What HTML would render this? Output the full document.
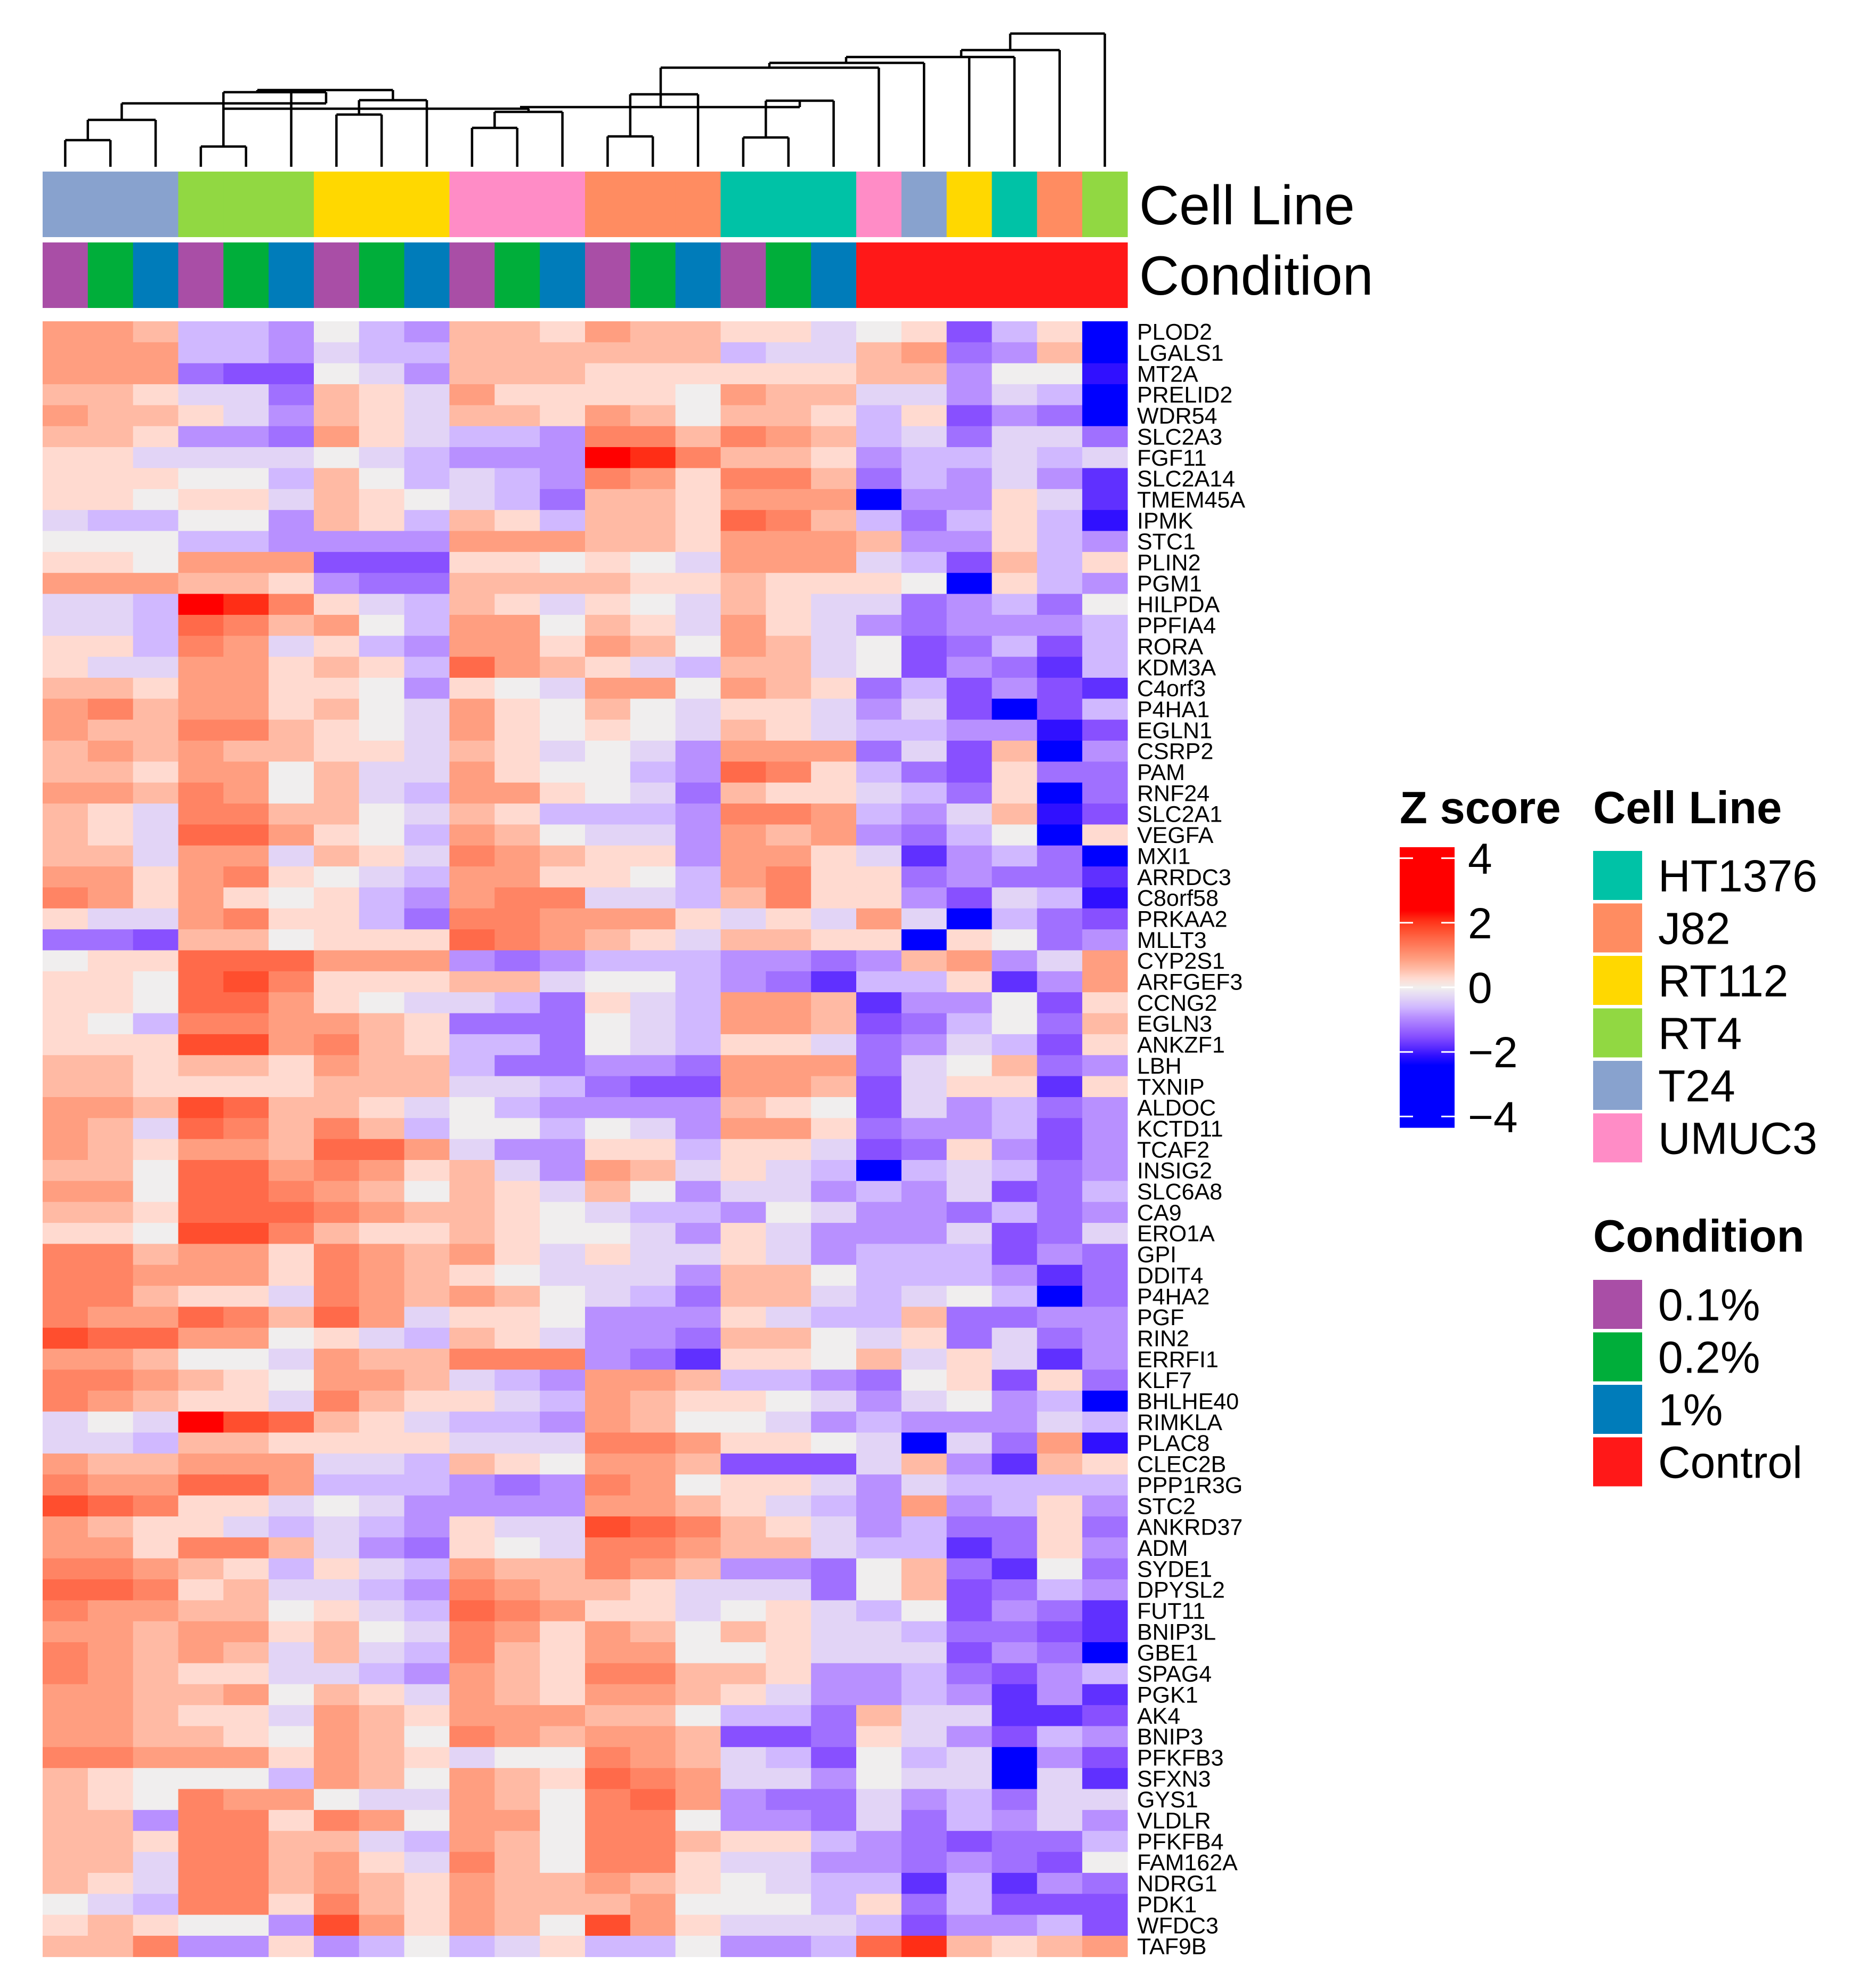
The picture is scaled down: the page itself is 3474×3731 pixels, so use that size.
<!DOCTYPE html>
<html><head><meta charset="utf-8">
<style>
html,body{margin:0;padding:0;background:#fff;}
svg{display:block;font-family:"Liberation Sans",Arial,sans-serif;}
</style></head>
<body>
<svg id="chart" xmlns="http://www.w3.org/2000/svg" width="3474" height="3731" viewBox="0 0 3474 3731">
<rect x="0" y="0" width="3474" height="3731" fill="#ffffff"/>
<g id="dendro" stroke="#000" stroke-width="4.5" fill="none"></g>
<g id="annot"></g>
<g id="cells"></g>
<g id="rowlabels" font-size="43" fill="#000"></g>
<text x="2138" y="421" font-size="104" fill="#000">Cell Line</text>
<text x="2138" y="553" font-size="104" fill="#000">Condition</text>
<g id="legend"></g>
</svg>
<script>
// ---- data ----
const genes = ["PLOD2","LGALS1","MT2A","PRELID2","WDR54","SLC2A3","FGF11","SLC2A14","TMEM45A","IPMK","STC1","PLIN2","PGM1","HILPDA","PPFIA4","RORA","KDM3A","C4orf3","P4HA1","EGLN1","CSRP2","PAM","RNF24","SLC2A1","VEGFA","MXI1","ARRDC3","C8orf58","PRKAA2","MLLT3","CYP2S1","ARFGEF3","CCNG2","EGLN3","ANKZF1","LBH","TXNIP","ALDOC","KCTD11","TCAF2","INSIG2","SLC6A8","CA9","ERO1A","GPI","DDIT4","P4HA2","PGF","RIN2","ERRFI1","KLF7","BHLHE40","RIMKLA","PLAC8","CLEC2B","PPP1R3G","STC2","ANKRD37","ADM","SYDE1","DPYSL2","FUT11","BNIP3L","GBE1","SPAG4","PGK1","AK4","BNIP3","PFKFB3","SFXN3","GYS1","VLDLR","PFKFB4","FAM162A","NDRG1","PDK1","WFDC3","TAF9B"];
const sampleCellLines = ["T24","T24","T24","RT4","RT4","RT4","RT112","RT112","RT112","UMUC3","UMUC3","UMUC3","J82","J82","J82","HT1376","HT1376","HT1376","UMUC3","T24","RT112","HT1376","J82","RT4"];
const sampleConditions = ["0.1%","0.2%","1%","0.1%","0.2%","1%","0.1%","0.2%","1%","0.1%","0.2%","1%","0.1%","0.2%","1%","0.1%","0.2%","1%","Control","Control","Control","Control","Control","Control"];
const zStep = 0.3; // z score = level * zStep
const zLevels = [
[3,3,2,-2,-2,-3,0,-2,-3,2,2,1,3,2,2,1,1,-1,0,1,-5,-2,1,-8],
[3,3,3,-2,-2,-3,-1,-2,-2,2,2,2,2,2,2,-2,-1,-1,2,3,-4,-3,2,-8],
[3,3,3,-4,-5,-5,0,-1,-3,2,2,2,1,1,1,1,1,1,2,2,-3,0,0,-7],
[2,2,1,-1,-1,-4,2,1,-1,3,1,1,1,1,0,3,2,2,-1,-1,-3,-1,-2,-8],
[3,2,2,1,-1,-3,2,1,-1,2,2,1,3,2,0,2,2,1,-2,1,-5,-3,-4,-8],
[2,2,1,-3,-3,-4,3,1,-1,-2,-2,-3,4,4,2,4,3,2,-2,-1,-4,-1,-1,-4],
[1,1,-1,-1,-1,-1,0,-1,-2,-3,-3,-3,8,7,4,2,2,1,-3,-2,-2,-1,-2,-1],
[1,1,1,0,0,-2,2,0,-2,-1,-2,-3,4,3,1,4,4,2,-4,-2,-3,-1,-3,-6],
[1,1,0,1,1,-1,2,1,0,-1,-2,-4,2,2,1,3,3,3,-8,-3,-3,1,-1,-6],
[-1,-2,-2,0,0,-3,2,1,-2,2,1,-2,2,2,1,5,4,2,-2,-4,-2,1,-2,-7],
[0,0,0,-2,-2,-3,-3,-3,-3,3,3,3,2,2,1,3,3,3,2,-3,-3,1,-2,-3],
[1,1,0,3,3,3,-5,-5,-5,1,1,0,1,0,-1,3,3,3,-1,-2,-5,2,-2,1],
[3,3,3,2,2,1,-3,-4,-4,2,2,2,2,1,1,2,1,1,1,0,-8,1,-2,-3],
[-1,-1,-2,8,7,4,1,-1,-2,2,1,-1,1,0,-1,2,1,-1,-1,-4,-3,-2,-4,0],
[-1,-1,-2,5,4,2,3,0,-2,3,3,0,2,1,-1,3,1,-1,-3,-4,-3,-3,-3,-2],
[1,1,-2,4,3,-1,1,-2,-3,3,3,1,3,2,0,3,2,-1,0,-5,-4,-2,-5,-2],
[1,-1,-1,3,3,1,2,1,-2,5,3,2,1,-1,-2,2,2,-1,0,-5,-3,-4,-6,-2],
[2,2,1,3,3,1,1,0,-3,1,0,-1,3,3,0,3,2,1,-4,-2,-5,-3,-5,-6],
[3,4,2,3,3,1,2,0,-1,3,1,0,2,0,-1,1,1,-1,-3,-1,-5,-8,-5,-2],
[3,2,2,4,4,2,1,0,-1,3,1,0,1,0,-1,2,1,-1,-2,-2,-3,-3,-7,-5],
[2,3,2,3,2,2,1,1,-1,2,1,-1,0,-1,-3,3,3,3,-4,-1,-5,2,-8,-3],
[2,2,1,3,3,0,2,-1,-1,3,1,0,0,-2,-3,5,4,1,-2,-4,-5,1,-4,-4],
[3,3,2,4,3,0,2,-1,-2,3,3,1,0,-1,-4,2,1,1,-1,-2,-4,1,-8,-4],
[2,1,-1,4,4,2,2,0,-1,2,1,-2,-2,-2,-3,4,4,3,-2,-3,-1,2,-7,-5],
[2,1,-1,5,5,3,1,0,-2,3,2,0,-1,-1,-3,3,2,3,-3,-4,-2,0,-8,1],
[2,2,-1,3,3,-1,2,1,-1,4,3,2,1,1,-3,3,3,1,-1,-6,-3,-2,-4,-8],
[3,3,1,3,4,1,0,-1,-2,3,3,1,1,0,-2,3,4,1,1,-4,-3,-4,-4,-6],
[4,3,1,3,1,0,1,-2,-3,3,4,4,-1,-1,-2,2,4,1,1,-3,-5,-1,-2,-7],
[1,-1,-1,3,4,1,1,-2,-4,4,4,3,3,3,1,-1,1,-1,3,-1,-8,-2,-4,-5],
[-4,-4,-5,2,2,0,1,1,1,5,4,3,2,1,-1,2,2,1,1,-8,1,0,-4,-3],
[0,1,1,5,5,5,3,3,3,-3,-4,-3,-2,-2,-2,-3,-3,-4,-3,2,3,-3,-1,3],
[1,1,0,5,6,4,1,1,1,2,2,-1,0,0,-2,-3,-4,-6,-2,-2,1,-6,-3,3],
[1,1,0,5,5,3,1,0,-1,-1,-2,-4,1,-1,-2,3,3,2,-6,-3,-3,0,-5,1],
[1,0,-2,4,4,3,3,2,1,-4,-4,-4,0,-1,-2,3,3,2,-5,-4,-2,0,-4,2],
[1,1,1,6,6,3,4,2,1,-2,-2,-4,0,-1,-2,1,1,-1,-4,-3,-1,-2,-5,1],
[2,2,1,2,2,1,3,2,2,-2,-4,-4,-3,-3,-4,3,3,3,-4,-1,0,2,-4,-3],
[2,2,1,1,1,1,2,2,2,-1,-1,-2,-4,-5,-5,3,3,2,-5,-1,1,1,-6,1],
[3,3,2,6,5,2,2,1,-1,0,-2,-3,-3,-3,-3,2,1,0,-5,-1,-3,-2,-4,-3],
[3,2,-1,5,4,2,4,2,-2,0,0,-2,0,-1,-3,3,3,1,-4,-3,-3,-2,-5,-3],
[3,2,1,3,3,2,5,5,3,-1,-3,-3,1,1,-2,1,1,-1,-5,-4,1,-3,-5,-3],
[2,2,0,5,5,3,4,3,1,2,-1,-3,3,2,-1,1,-1,-2,-8,-2,-1,-2,-4,-3],
[3,3,0,5,5,4,3,2,0,2,1,-1,2,0,-3,-1,-1,-3,-2,-3,-1,-5,-4,-2],
[2,2,1,5,5,5,4,3,2,2,1,0,-1,-2,-2,-3,0,-1,-3,-3,-4,-2,-4,-3],
[1,1,0,6,6,4,2,1,1,2,1,0,0,-1,-3,1,-1,-3,-3,-3,-1,-5,-4,-1],
[4,4,2,3,3,1,4,3,2,3,1,-1,1,-1,-1,1,-1,-3,-2,-2,-2,-5,-3,-4],
[4,4,3,3,3,1,4,3,2,1,0,-1,-1,-1,-3,2,2,0,-2,-2,-2,-3,-6,-4],
[4,4,2,1,1,-1,4,3,2,3,2,0,-1,-2,-4,2,2,-1,-2,-1,0,-2,-8,-4],
[4,3,3,5,4,2,5,3,-1,1,1,0,-3,-3,-3,1,-1,-2,-2,2,-4,-4,-3,-3],
[6,5,5,3,3,0,1,-1,-2,2,1,-1,-3,-3,-4,2,2,0,-1,1,-4,-1,-4,-3],
[3,3,2,0,0,-1,3,2,2,4,4,4,-3,-4,-6,1,1,0,2,-1,1,-1,-6,-3],
[4,4,3,2,1,0,3,3,2,-1,-2,-3,3,3,2,-2,-2,-3,-4,0,1,-5,1,-4],
[4,3,2,1,1,-1,4,2,1,1,-1,-2,3,2,1,1,0,-1,-3,-1,0,-3,-2,-8],
[-1,0,-1,8,6,5,2,1,-1,-2,-2,-3,3,2,0,0,-1,-3,-2,-3,-3,-3,-1,-2],
[-1,-1,-2,2,2,1,1,1,1,-1,-1,-1,4,4,3,1,1,0,-1,-8,-1,-4,3,-7],
[3,2,2,3,3,3,-1,-1,-2,2,1,0,3,3,2,-5,-5,-5,-1,2,-3,-6,2,1],
[4,3,3,5,5,3,-2,-2,-2,-3,-4,-3,4,3,0,1,1,-1,-3,-1,-2,-2,-2,-2],
[6,5,4,1,1,-1,0,-1,-3,-3,-3,-3,3,3,2,1,-1,-2,-3,3,-3,-2,1,-3],
[3,2,1,1,-1,-2,-1,-2,-3,1,-1,-1,6,5,4,2,1,-1,-3,-2,-4,-4,1,-4],
[3,3,1,4,4,2,-1,-3,-4,1,0,-1,4,4,3,2,2,-1,-2,-2,-6,-4,1,-3],
[4,4,3,2,1,-2,1,-1,-2,3,2,2,4,3,2,-3,-3,-4,0,2,-4,-6,0,-4],
[5,5,4,1,2,-1,-1,-2,-3,4,3,2,2,1,-1,-1,-1,-4,0,2,-5,-4,-2,-3],
[4,3,3,2,2,0,1,-1,-2,5,4,3,1,1,-1,0,1,-1,-2,0,-5,-3,-4,-6],
[3,3,2,3,3,1,2,0,-1,4,3,1,3,2,0,2,1,-1,-1,-2,-4,-4,-5,-6],
[4,3,2,3,2,-1,2,-1,-2,4,2,1,3,3,0,0,1,-1,-1,-1,-5,-3,-4,-8],
[4,3,2,1,1,-1,-1,-2,-3,3,2,1,4,4,2,2,1,-3,-3,-2,-4,-5,-3,-2],
[3,3,2,2,3,0,2,1,-1,3,2,1,3,3,2,1,-1,-3,-3,-2,-3,-6,-3,-6],
[3,3,2,1,1,-1,3,2,1,3,3,3,2,2,0,-2,-2,-4,2,-1,-1,-6,-6,-5],
[3,3,2,2,1,0,3,2,0,4,3,2,3,3,2,-5,-5,-4,1,-1,-3,-5,-2,-3],
[4,4,3,3,3,1,3,2,1,-1,0,0,4,3,2,-1,-2,-5,0,-2,-1,-8,-3,-5],
[2,1,0,0,0,-2,3,2,0,3,2,1,5,4,3,-1,-1,-3,0,-1,-1,-8,-1,-6],
[2,1,0,4,3,3,0,-1,-1,3,2,0,4,5,3,-3,-4,-4,-1,-3,-2,-4,-1,-1],
[2,2,-3,4,4,1,4,3,0,3,3,0,4,4,0,-3,-3,-4,-1,-4,-2,-3,-1,-3],
[2,2,1,4,4,2,2,-1,-2,3,2,0,4,4,2,1,1,-2,-3,-4,-5,-4,-4,-2],
[2,2,-1,4,4,2,3,1,-1,4,2,0,4,4,1,-1,-1,-3,-3,-4,-3,-4,-5,0],
[2,1,-1,4,4,2,3,2,1,3,2,2,3,2,1,0,-1,-2,-2,-6,-2,-6,-3,-4],
[0,-1,-2,4,4,1,4,2,1,3,2,2,2,3,0,0,0,-2,1,-4,-2,-5,-5,-5],
[1,2,1,0,0,-3,6,3,1,3,2,0,6,3,1,-1,-1,-1,-2,-5,-3,-3,-2,-5],
[2,2,4,-3,-3,1,-3,-2,0,-2,-1,1,-2,-2,0,-3,-3,-2,5,7,2,1,2,3]
];
const legendTicks = [4,2,0,-2,-4];
const cellLineNames = ["HT1376","J82","RT112","RT4","T24","UMUC3"];
const cellLineColors = ["#00C2A6","#FF8C61","#FFD800","#91D842","#88A2CE","#FF8CC6"];
const conditionNames = ["0.1%","0.2%","1%","Control"];
const conditionColors = ["#A94EA6","#00AE3A","#007CBA","#FF1818"];

// ---- layout ----
const NS = "http://www.w3.org/2000/svg";
const X0 = 80, X1 = 2116, Y0 = 603, RH = 39.35;
const nCol = sampleCellLines.length;
const CW = (X1 - X0) / nCol;
const colX = i => X0 + i * CW;
const colC = i => X0 + (i + 0.5) * CW;
const rowY = r => Y0 + r * RH;

function mk(tag, attrs, parent){
  const el = document.createElementNS(NS, tag);
  for (const k in attrs) el.setAttribute(k, attrs[k]);
  parent.appendChild(el);
  return el;
}
const stops = [[-2.4,[0,0,255]],[-2.1,[48,16,255]],[-1.8,[96,48,255]],[-1.5,[136,80,255]],[-1.2,[160,112,255]],[-0.9,[184,144,255]],[-0.6,[208,184,255]],[-0.3,[226,212,246]],[0,[240,238,238]],[0.3,[255,218,208]],[0.6,[255,186,164]],[0.9,[255,158,128]],[1.2,[255,132,100]],[1.5,[255,106,74]],[1.8,[255,78,46]],[2.1,[255,46,22]],[2.4,[255,0,0]]];
function zColor(z){
  if (z <= stops[0][0]) return "rgb(0,0,255)";
  if (z >= stops[stops.length-1][0]) return "rgb(255,0,0)";
  for (let i=0;i<stops.length-1;i++){
    const a=stops[i], b=stops[i+1];
    if (z>=a[0] && z<=b[0]){
      const t=(z-a[0])/(b[0]-a[0]);
      const c=a[1].map((v,j)=>Math.round(v+(b[1][j]-v)*t));
      return "rgb("+c.join(",")+")";
    }
  }
}

// ---- heatmap ----
const cells = document.getElementById("cells");
zLevels.forEach((row, r) => {
  row.forEach((lv, c) => {
    const z = lv * zStep;
    const el = mk("rect", {x: colX(c).toFixed(2), y: rowY(r).toFixed(2), width: (CW+0.6).toFixed(2), height: (RH+0.6).toFixed(2), fill: zColor(z)}, cells);
    
    
  });
});
const rl = document.getElementById("rowlabels");
genes.forEach((g, r) => {
  const t = mk("text", {x: X1 + 18, y: (rowY(r) + RH/2 + 15).toFixed(1)}, rl);
  t.textContent = g;
  
  
});

// ---- annotation bars ----
const an = document.getElementById("annot");
sampleCellLines.forEach((cl, c) => {
  const el = mk("rect", {x: colX(c).toFixed(2), y: 322, width: (CW+0.6).toFixed(2), height: 123, fill: cellLineColors[cellLineNames.indexOf(cl)]}, an);
  
  
});
sampleConditions.forEach((cd, c) => {
  const el = mk("rect", {x: colX(c).toFixed(2), y: 455, width: (CW+0.6).toFixed(2), height: 123, fill: conditionColors[conditionNames.indexOf(cd)]}, an);
  
  
});

// ---- dendrogram ----
const dg = document.getElementById("dendro");
const LB = 313;
function seg(x1,y1,x2,y2){
  const l = mk("line", {x1:x1, y1:y1, x2:x2, y2:y2}, dg);
  
  
}
function mid(a,b){return (a+b)/2;}
const m12 = mid(colC(0),colC(1));
seg(colC(0),LB,colC(0),263); seg(colC(1),LB,colC(1),263); seg(colC(0),263,colC(1),263);
seg(m12,263,m12,225); seg(colC(2),LB,colC(2),225); seg(m12,225,colC(2),225);
const m123 = mid(m12,colC(2));
seg(m123,225,m123,194); seg(m123,194,612,194); seg(612,194,612,173);
const m45 = mid(colC(3),colC(4));
seg(colC(3),LB,colC(3),275); seg(colC(4),LB,colC(4),275); seg(colC(3),275,colC(4),275);
seg(m45,275,m45,173); seg(m45,173,612,173); seg(colC(5),LB,colC(5),173);
const m78 = mid(colC(6),colC(7));
seg(colC(6),LB,colC(6),215); seg(colC(7),LB,colC(7),215); seg(colC(6),215,colC(7),215);
seg(m78,215,m78,188); seg(colC(8),LB,colC(8),188); seg(m78,188,colC(8),188);
const m789 = mid(m78,colC(8));
seg(m789,188,m789,169); seg(483,169,m789,169); seg(483,169,483,173);
seg(m45,204,993,204);
const m1011 = mid(colC(9),colC(10));
seg(colC(9),LB,colC(9),240); seg(colC(10),LB,colC(10),240); seg(colC(9),240,colC(10),240);
seg(m1011,240,m1011,210); seg(colC(11),LB,colC(11),210); seg(m1011,210,colC(11),210);
const mA = mid(m1011,colC(11));
seg(mA,210,mA,204);
seg(976,201,1501,201);
const m1314 = mid(colC(12),colC(13));
seg(colC(12),LB,colC(12),256); seg(colC(13),LB,colC(13),256); seg(colC(12),256,colC(13),256);
seg(m1314,256,m1314,177); seg(colC(14),LB,colC(14),177); seg(m1314,177,colC(14),177);
seg(1240,201,1240,127);
const m1617 = mid(colC(15),colC(16));
seg(colC(15),LB,colC(15),258); seg(colC(16),LB,colC(16),258); seg(colC(15),258,colC(16),258);
seg(m1617,258,m1617,189); seg(colC(17),LB,colC(17),189); seg(m1617,189,colC(17),189);
seg(1501,189,1501,201);
seg(1240,127,colC(18),127); seg(colC(18),LB,colC(18),127);
seg(1444,127,1444,118); seg(1444,118,colC(19),118); seg(colC(19),LB,colC(19),118);
seg(1588,118,1588,107); seg(1588,107,colC(21),107); seg(colC(21),LB,colC(21),107); seg(colC(20),LB,colC(20),107);
seg(1804,107,1804,94); seg(1804,94,colC(22),94); seg(colC(22),LB,colC(22),94);
seg(1896,94,1896,63); seg(1896,63,colC(23),63); seg(colC(23),LB,colC(23),63);

// ---- legends ----
const lg = document.getElementById("legend");
const zt = mk("text", {x: 2627, y: 1545, "font-size": 85, "font-weight": "bold"}, lg);
zt.textContent = "Z score";


const BT = 1590, BB = 2116, ZTOP = 4.34, ZBOT = -4.34;
const zy = z => BT + (ZTOP - z) / (ZTOP - ZBOT) * (BB - BT);
for (let y = BT; y < BB; y += 2){
  const z = ZTOP - (y - BT) / (BB - BT) * (ZTOP - ZBOT);
  const s = mk("rect", {x: 2627, y: y, width: 103, height: 2.6, fill: zColor(z)}, lg);
  
  
}
legendTicks.forEach(v => {
  const y = zy(v);
  const d1 = mk("line", {x1: 2627, y1: y, x2: 2652, y2: y, stroke: "#fff", "stroke-width": 3}, lg);
  
  
  const d2 = mk("line", {x1: 2705, y1: y, x2: 2730, y2: y, stroke: "#fff", "stroke-width": 3}, lg);
  
  
  const t = mk("text", {x: 2755, y: y + 29, "font-size": 82}, lg);
  t.textContent = v < 0 ? "\u2212" + Math.abs(v) : String(v);
  
  
});
function catLegend(title, titleY, names, colors, boxY0, prefix){
  const tt = mk("text", {x: 2990, y: titleY, "font-size": 85, "font-weight": "bold"}, lg);
  tt.textContent = title;
  
  
  names.forEach((n, i) => {
    const y = boxY0 + i * 98.5;
    const b = mk("rect", {x: 2990, y: y, width: 92, height: 92, fill: colors[i]}, lg);
    
    
    const t = mk("text", {x: 3112, y: y + 76, "font-size": 84}, lg);
    t.textContent = n;
    
    
  });
}
catLegend("Cell Line", 1545, cellLineNames, cellLineColors, 1597, "cell-line");
catLegend("Condition", 2349, conditionNames, conditionColors, 2402, "condition");
</script>
</body></html>
